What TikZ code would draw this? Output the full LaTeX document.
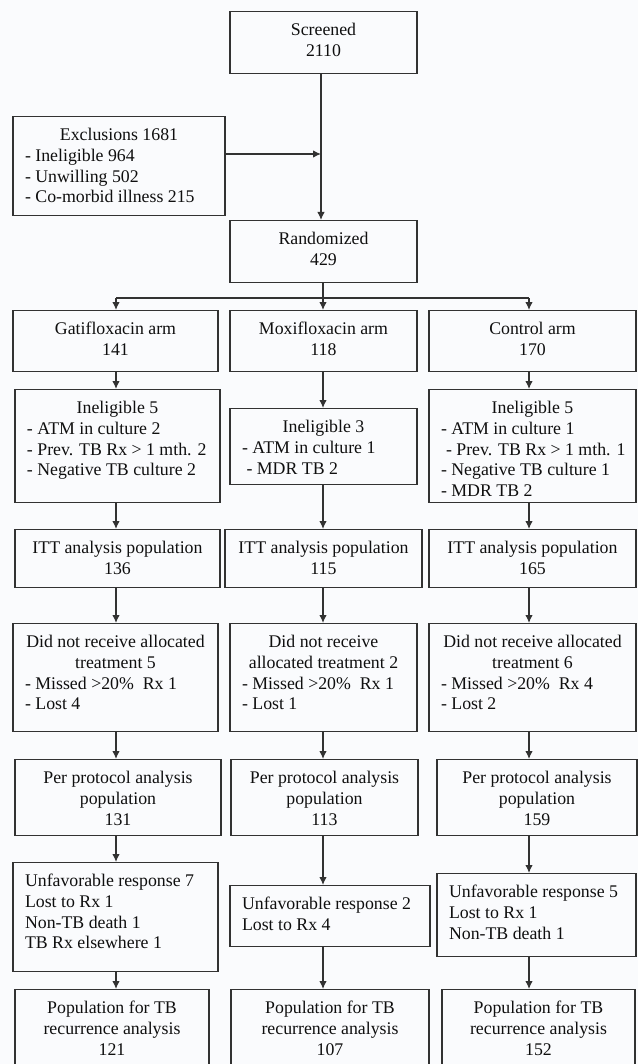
\documentclass[tikz,border=0pt]{standalone}
\usepackage{fontspec}
\setmainfont{Liberation Serif}
\usepackage{tikz}
\usetikzlibrary{positioning,arrows.meta}

\definecolor{pagebg}{RGB}{250,251,253}
\definecolor{linegray}{RGB}{50,50,50}
\definecolor{inkgray}{RGB}{15,15,15}

\newcommand{\boxtxt}[3]{\parbox[t][#2pt][t]{\dimexpr#1pt-24pt\relax}{\vspace*{9.5pt}\strut#3}}
\newcommand{\ctrline}[1]{\makebox[\linewidth][c]{#1}}
\newcommand{\lftline}[1]{\makebox[\linewidth][l]{#1}}

\tikzset{
  box/.style={draw=linegray, line width=1.3pt, inner xsep=12pt, inner ysep=0pt, anchor=north,
    text=inkgray, font=\fontsize{17.8}{20.7}\selectfont},
  arr/.style={draw=linegray, line width=1.2pt, -{Latex[length=8pt,width=7.5pt]}},
  link/.style={draw=linegray, line width=1.2pt}
}

\begin{document}
\begin{tikzpicture}[x=1pt,y=-1pt]

\useasboundingbox (0,0) rectangle (638,1064);
\fill[pagebg] (0,0) rectangle (638,1064);

\coordinate (colG) at (116,0);
\coordinate (colM) at (323,0);
\coordinate (colC) at (529,0);

\node[box] (scr) at (323.5,11) {\boxtxt{187}{62}{\ctrline{Screened}\\\ctrline{2110}}};
\node[box] (excl) at (119,116) {\boxtxt{212}{99}{\ctrline{Exclusions 1681}\\
  \lftline{- Ineligible 964}\\\lftline{- Unwilling 502}\\\lftline{- Co-morbid illness 215}}};
\node[box] (rand) at (323.5,220) {\boxtxt{187}{62}{\ctrline{Randomized}\\\ctrline{429}}};

\node[box] (gati) at (115.5,310) {\boxtxt{205}{61}{\ctrline{Gatifloxacin arm}\\\ctrline{141}}};
\node[box] (moxi) at (323.5,310) {\boxtxt{187}{61}{\ctrline{Moxifloxacin arm}\\\ctrline{118}}};
\node[box] (ctrl) at (532.5,310) {\boxtxt{207}{61}{\ctrline{Control arm}\\\ctrline{170}}};

\node[box] (ineG) at (117.5,389) {\boxtxt{205}{113}{\ctrline{Ineligible 5}\\
  \lftline{- ATM in culture 2}\\\lftline{- Prev. TB Rx > 1 mth. 2}\\\lftline{- Negative TB culture 2}}};
\node[box] (ineM) at (323.5,408) {\boxtxt{187}{76}{\ctrline{Ineligible 3}\\
  \lftline{- ATM in culture 1}\\\lftline{\hspace{4.5pt}- MDR TB 2}}};
\node[box] (ineC) at (532.5,389) {\boxtxt{207}{113}{\ctrline{Ineligible 5}\\
  \lftline{- ATM in culture 1}\\\lftline{\hspace{5pt}- Prev. TB Rx > 1 mth. 1}\\
  \lftline{- Negative TB culture 1}\\\lftline{- MDR TB 2}}};

\node[box] (ittG) at (117.5,529) {\boxtxt{205}{58}{\ctrline{ITT analysis population}\\\ctrline{136}}};
\node[box] (ittM) at (323.5,529) {\boxtxt{197}{58}{\ctrline{ITT analysis population}\\\ctrline{115}}};
\node[box] (ittC) at (532.5,529) {\boxtxt{207}{58}{\ctrline{ITT analysis population}\\\ctrline{165}}};

\node[box] (dnrG) at (115.5,623) {\boxtxt{205}{108}{\ctrline{Did not receive allocated}\\
  \ctrline{treatment 5}\\\lftline{- Missed >20\%~ Rx 1}\\\lftline{- Lost 4}}};
\node[box] (dnrM) at (323.5,623) {\boxtxt{187}{108}{\ctrline{Did not receive}\\
  \ctrline{allocated treatment 2}\\\lftline{- Missed >20\%~ Rx 1}\\\lftline{- Lost 1}}};
\node[box] (dnrC) at (532.5,623) {\boxtxt{207}{108}{\ctrline{Did not receive allocated}\\
  \ctrline{treatment 6}\\\lftline{- Missed >20\%~ Rx 4}\\\lftline{- Lost 2}}};

\node[box] (ppG) at (118,759) {\boxtxt{206}{76}{\ctrline{Per protocol analysis}\\\ctrline{population}\\\ctrline{131}}};
\node[box] (ppM) at (324.5,759) {\boxtxt{187}{76}{\ctrline{Per protocol analysis}\\\ctrline{population}\\\ctrline{113}}};
\node[box] (ppC) at (537,759) {\boxtxt{200}{76}{\ctrline{Per protocol analysis}\\\ctrline{population}\\\ctrline{159}}};

\node[box] (unfG) at (115.5,862) {\boxtxt{205}{109}{\lftline{Unfavorable response 7}\\
  \lftline{Lost to Rx 1}\\\lftline{Non-TB death 1}\\\lftline{TB Rx elsewhere 1}}};
\node[box] (unfM) at (330,885) {\boxtxt{200}{61}{\lftline{Unfavorable response 2}\\\lftline{Lost to Rx 4}}};
\node[box] (unfC) at (536.5,873) {\boxtxt{199}{83}{\lftline{Unfavorable response 5}\\
  \lftline{Lost to Rx 1}\\\lftline{Non-TB death 1}}};

\node[box] (finG) at (112,989) {\boxtxt{194}{100}{\ctrline{Population for TB}\\\ctrline{recurrence analysis}\\\ctrline{121}}};
\node[box] (finM) at (330,989) {\boxtxt{198}{100}{\ctrline{Population for TB}\\\ctrline{recurrence analysis}\\\ctrline{107}}};
\node[box] (finC) at (538.5,989) {\boxtxt{193}{100}{\ctrline{Population for TB}\\\ctrline{recurrence analysis}\\\ctrline{152}}};

\coordinate (join) at (321,154);
\coordinate (split) at (323,298);

\draw[arr] (scr.south -| join) -- (rand.north -| join);
\draw[arr] (excl.east |- join) -- (join);

\draw[link] (rand.south -| split) -- (split);
\draw[link] (split -| colG) -- (split -| colC);
\foreach \n/\c in {gati/colG, moxi/colM, ctrl/colC} {
    \draw[arr] (split -| \c) -- (\n.north -| \c);
}

\foreach \a/\b/\c in {gati/ineG/colG, ineG/ittG/colG, ittG/dnrG/colG, dnrG/ppG/colG, ppG/unfG/colG, unfG/finG/colG,
                      moxi/ineM/colM, ineM/ittM/colM, ittM/dnrM/colM, dnrM/ppM/colM, ppM/unfM/colM, unfM/finM/colM,
                      ctrl/ineC/colC, ineC/ittC/colC, ittC/dnrC/colC, dnrC/ppC/colC, ppC/unfC/colC, unfC/finC/colC} {
    \draw[arr] (\a.south -| \c) -- (\b.north -| \c);
}

\end{tikzpicture}
\end{document}
